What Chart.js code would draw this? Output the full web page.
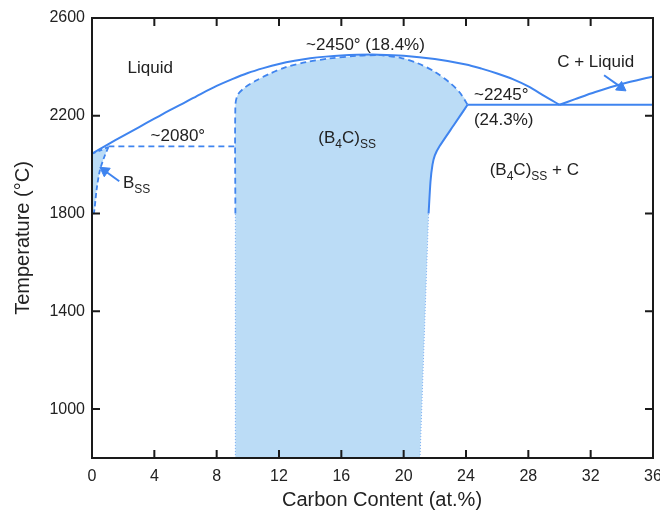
<!DOCTYPE html>
<html lang="en">
<head>
  <meta charset="UTF-8">
  <title>B-C Phase Diagram</title>
  <script src="https://cdn.jsdelivr.net/npm/chart.js"></script>
  <style>
    body {
      margin: 0;
      background: #fff;
    }
    canvas {
      display: block;
    }
  </style>
</head>
<body>
  <canvas id="phaseChart" width="660" height="515"></canvas>

  <script>
    // axes
    const xTicks = [0, 4, 8, 12, 16, 20, 24, 28, 32, 36];
    const yTicks = [1000, 1400, 1800, 2200, 2600];

    // phase boundaries, [carbon at.%, temperature °C]
    const liquidus = [[0, 2045], [1, 2082], [2, 2118], [3, 2153], [4, 2188], [5, 2223], [6, 2256], [7, 2290],
      [8, 2322], [9, 2350], [10, 2375], [11, 2395], [12, 2412], [13, 2425], [14, 2435], [15, 2442],
      [16, 2447], [17, 2449.5], [18.4, 2450], [20, 2446], [22, 2432], [24, 2410],
      [25, 2393], [26, 2373], [27, 2350], [28, 2320], [29.1, 2278], [30, 2245]];
    const liquidusC = [[30, 2245], [31, 2268], [32.3, 2297], [34, 2330], [36, 2361]];
    const eutectic = [[24.1, 2245], [36, 2245]];
    const peritectic = [[1.05, 2075], [9.2, 2075]];
    const bSolidus = [[0, 2045], [1.05, 2072]];
    const bSolvus = [[1.05, 2072], [0.75, 2025], [0.5, 1975], [0.3, 1900], [0.12, 1800], [0, 1785]];
    const b4cLeft = [[9.2, 1800], [9.2, 2240], [9.35, 2285], [9.8, 2315], [10.5, 2343], [11.4, 2372],
      [12.4, 2398], [13.8, 2420], [15.2, 2434], [17, 2445], [18.4, 2449]];
    const b4cTop = [[18.4, 2449], [19.8, 2437], [20.9, 2415], [22, 2380], [23, 2333], [23.6, 2295], [24.1, 2245]];
    const b4cSolidus = [[24.1, 2245], [23.2, 2160], [22.3, 2075], [22.0, 2038], [21.85, 2000], [21.72, 1930], [21.6, 1800]];
    const lowLeft = [[9.2, 800], [9.2, 1800]];
    const lowRight = [[21.05, 800], [21.6, 1800]];

    // arrows: tail -> head, plus the head mark
    const bssArrow = [[1.75, 1932], [0.75, 1978]];
    const bssHead = [[0.82, 1975]];
    const cLiqArrow = [[32.86, 2366], [34.1, 2310]];
    const cLiqHead = [[33.95, 2316]];

    const blue = "#3f84ef";
    const lightBlue = "#bbdcf6";
    const ink = "#222";
    const fontFamily = "'Liberation Sans', Arial, sans-serif";

    const pts = (arr) => arr.map(([x, y]) => ({ x, y }));

    function curve(data, opts) {
      return Object.assign({
        data: pts(data),
        showLine: true,
        borderColor: blue,
        borderWidth: 2,
        pointRadius: 0,
        tension: 0.3,
        fill: false,
      }, opts || {});
    }

    const b4cShape = [...lowLeft, ...b4cLeft.slice(1), ...b4cTop.slice(1), ...b4cSolidus.slice(1), ...lowRight.slice().reverse()];
    const bssShape = [...bSolidus, ...bSolvus.slice(1)];

    // labels, placed in data units
    const labels = [
      { parts: [["Liquid"]], x: 3.74, y: 2395, align: "center" },
      { parts: [["~2450° (18.4%)"]], x: 17.55, y: 2489, align: "center" },
      { parts: [["~2080°"]], x: 5.51, y: 2116, align: "center" },
      { parts: [["B"], ["SS", true]], x: 1.99, y: 1923, align: "left" },
      { parts: [["(B"], ["4", true], ["C)"], ["SS", true]], x: 14.52, y: 2108, align: "left" },
      { parts: [["~2245°"]], x: 24.51, y: 2284, align: "left" },
      { parts: [["(24.3%)"]], x: 24.51, y: 2182, align: "left" },
      { parts: [["(B"], ["4", true], ["C)"], ["SS", true], [" + C"]], x: 25.52, y: 1976, align: "left" },
      { parts: [["C + Liquid"]], x: 29.85, y: 2419, align: "left" },
    ];

    const frameAndText = {
      id: "frameAndText",
      afterDraw(chart) {
        const ctx = chart.ctx;
        const { left, right, top, bottom } = chart.chartArea;
        const xs = chart.scales.x, ys = chart.scales.y;
        ctx.save();

        // frame
        ctx.strokeStyle = "#1a1a1a";
        ctx.lineWidth = 2;
        ctx.strokeRect(left, top, right - left, bottom - top);

        // inward ticks
        ctx.beginPath();
        xTicks.forEach((v) => {
          const px = xs.getPixelForValue(v);
          ctx.moveTo(px, bottom); ctx.lineTo(px, bottom - 8);
          ctx.moveTo(px, top); ctx.lineTo(px, top + 8);
        });
        yTicks.forEach((v) => {
          const py = ys.getPixelForValue(v);
          ctx.moveTo(left, py); ctx.lineTo(left + 8, py);
          ctx.moveTo(right, py); ctx.lineTo(right - 8, py);
        });
        ctx.stroke();

        // phase labels
        ctx.fillStyle = ink;
        ctx.textBaseline = "middle";
        labels.forEach((lab) => {
          const widths = lab.parts.map(([t, sub]) => {
            ctx.font = (sub ? "12px " : "17px ") + fontFamily;
            return ctx.measureText(t).width;
          });
          const total = widths.reduce((a, b) => a + b, 0);
          let px = xs.getPixelForValue(lab.x);
          if (lab.align === "center") px -= total / 2;
          const py = ys.getPixelForValue(lab.y);
          ctx.textAlign = "left";
          lab.parts.forEach(([t, sub], i) => {
            ctx.font = (sub ? "12px " : "17px ") + fontFamily;
            ctx.fillText(t, px, sub ? py + 6 : py);
            px += widths[i];
          });
        });

        // axis titles
        ctx.font = "20px " + fontFamily;
        ctx.textAlign = "center";
        ctx.fillText("Carbon Content (at.%)", 382, 500);
        ctx.translate(23, (top + bottom) / 2);
        ctx.rotate(-Math.PI / 2);
        ctx.fillText("Temperature (°C)", 0, 0);
        ctx.restore();
      },
    };

    const ctx = document.getElementById("phaseChart").getContext("2d");
    new Chart(ctx, {
      type: "scatter",
      data: {
        datasets: [
          curve(b4cShape, { borderWidth: 0, backgroundColor: lightBlue, fill: "shape", tension: 0.3 }),
          curve(bssShape, { borderWidth: 0, backgroundColor: lightBlue, fill: "shape", tension: 0 }),
          curve(liquidus),
          curve(liquidusC),
          curve(eutectic, { tension: 0 }),
          curve(b4cSolidus, { tension: 0.2 }),
          curve(peritectic, { borderDash: [6, 4], tension: 0, borderWidth: 1.8 }),
          curve(bSolidus, { borderDash: [4, 3], tension: 0, borderWidth: 1.8 }),
          curve(bSolvus, { borderDash: [5, 3], borderWidth: 1.8 }),
          curve(b4cLeft, { borderDash: [6, 4], borderWidth: 1.8 }),
          curve(b4cTop, { borderDash: [6, 4], borderWidth: 1.8 }),
          curve(lowLeft, { borderColor: "#7fb0f2", borderWidth: 1, borderDash: [1, 2], tension: 0 }),
          curve(lowRight, { borderColor: "#7fb0f2", borderWidth: 1, borderDash: [1, 2], tension: 0 }),
          curve(bssArrow, { tension: 0, borderWidth: 2 }),
          curve(cLiqArrow, { tension: 0, borderWidth: 2 }),
          { data: pts(bssHead), pointStyle: "triangle", pointRadius: 6, pointRotation: -55,
            backgroundColor: blue, borderColor: blue, borderWidth: 1 },
          { data: pts(cLiqHead), pointStyle: "triangle", pointRadius: 6, pointRotation: 125,
            backgroundColor: blue, borderColor: blue, borderWidth: 1 },
        ],
      },
      options: {
        responsive: false,
        animation: false,
        layout: { padding: { top: 18, right: 4, left: 0, bottom: 0 } },
        plugins: {
          legend: { display: false },
          tooltip: { enabled: false },
          filler: { drawTime: "beforeDatasetsDraw" },
        },
        scales: {
          x: {
            type: "linear",
            min: 0,
            max: 36,
            afterBuildTicks: (s) => { s.ticks = xTicks.map((v) => ({ value: v })); },
            afterFit: (s) => { s.height = 57; s.paddingLeft = 0; s.paddingRight = 0; },
            ticks: { padding: 9, color: ink, font: { size: 16, family: fontFamily }, callback: (v) => String(v) },
            grid: { display: false, drawTicks: false },
            border: { display: false },
          },
          y: {
            min: 800,
            max: 2600,
            afterBuildTicks: (s) => { s.ticks = yTicks.map((v) => ({ value: v })); },
            afterFit: (s) => { s.width = 92; s.paddingTop = 0; s.paddingBottom = 0; },
            ticks: { padding: 7, color: ink, font: { size: 16, family: fontFamily }, callback: (v) => String(v) },
            grid: { display: false, drawTicks: false },
            border: { display: false },
          },
        },
      },
      plugins: [frameAndText],
    });
  </script>
</body>
</html>
